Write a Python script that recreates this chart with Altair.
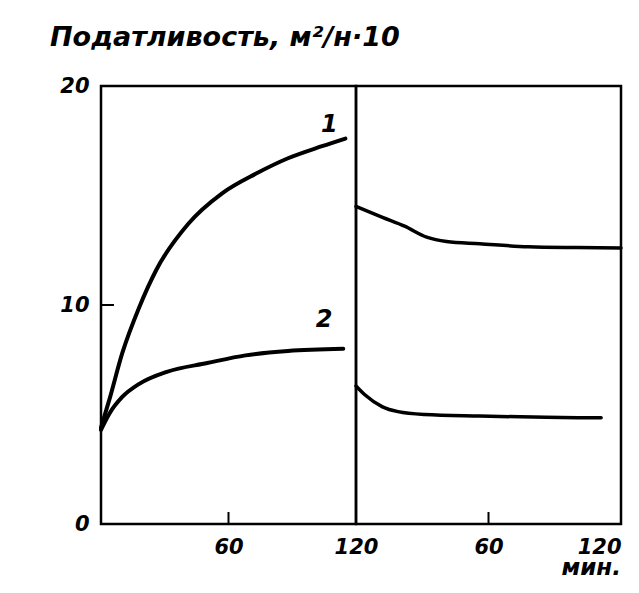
import altair as alt
import pandas as pd

# ---- data ----
# left panel (loading), minutes 0..120
t1_left = [0, 4, 10, 18, 26, 41, 57, 73, 88, 104, 115]
c1_left = [4.4, 5.7, 7.8, 9.9, 11.6, 13.7, 15.1, 16.0, 16.7, 17.25, 17.6]
t2_left = [0, 4, 10, 18, 31, 50, 68, 88, 114]
c2_left = [4.3, 5.05, 5.8, 6.4, 6.95, 7.35, 7.7, 7.9, 8.0]
# right panel (unloading), minutes 0..120
t1_right = [0, 12, 22, 32, 41, 56, 78, 100, 120]
c1_right = [14.5, 14.0, 13.6, 13.1, 12.9, 12.8, 12.66, 12.62, 12.6]
t2_right = [0, 4, 12, 19, 31, 56, 86, 111]
c2_right = [6.3, 5.9, 5.35, 5.13, 5.0, 4.93, 4.87, 4.85]

y_ticks = [0, 10, 20]
x_ticks = [60, 120]
inner_y_ticks = [10]
inner_x_ticks = [60]

curve_labels = ["1", "2"]
curve_label_t = [107.5, 105]
curve_label_v = [18.2, 9.3]

title_text = "Податливость, м²/н·10"
unit_text = "мин."

FONT = "DejaVu Sans"
W_L, W_R, H = 255, 265, 438


def curves(ta, va, tb, vb):
    rows = [{"t": t, "v": v, "s": "1"} for t, v in zip(ta, va)]
    rows += [{"t": t, "v": v, "s": "2"} for t, v in zip(tb, vb)]
    return pd.DataFrame(rows)


lab_kw = dict(labelFont=FONT, labelFontSize=21, labelFontStyle="italic", labelFontWeight="bold",
              labelColor="black", ticks=False, domain=False, grid=False, title=None)

xscale = alt.Scale(domain=[0, 120], nice=False, zero=False)
yscale = alt.Scale(domain=[0, 20], nice=False)


def x_enc(flush):
    return alt.X("t:Q", scale=xscale,
                 axis=alt.Axis(values=x_ticks, labelPadding=12, labelFlush=flush, **lab_kw))


def panel(df, width, sw, show_y, extra):
    ax_y = alt.Axis(values=y_ticks, labelPadding=12, **lab_kw) if show_y else None
    lines = alt.Chart(df).mark_line(color="black", strokeWidth=sw, strokeCap="round",
                                    interpolate="monotone").encode(
        x=x_enc(not show_y),
        y=alt.Y("v:Q", scale=yscale, axis=ax_y),
        detail="s:N",
    )
    xt = alt.Chart(pd.DataFrame({"t": inner_x_ticks})).mark_rule(color="black", strokeWidth=2).encode(
        x=alt.X("t:Q", scale=xscale), y=alt.value(H), y2=alt.value(H - 12))
    layers = [lines, xt] + extra
    return alt.layer(*layers).properties(width=width, height=H)


# left panel extras
yt = alt.Chart(pd.DataFrame({"v": inner_y_ticks})).mark_rule(color="black", strokeWidth=2).encode(
    y=alt.Y("v:Q", scale=yscale), x=alt.value(0), x2=alt.value(13))
lbl = alt.Chart(pd.DataFrame({"t": curve_label_t, "v": curve_label_v, "txt": curve_labels})).mark_text(
    font=FONT, fontSize=24, fontStyle="italic", fontWeight="bold", color="black").encode(
    x=alt.X("t:Q", scale=xscale), y=alt.Y("v:Q", scale=yscale), text="txt:N")
ttl = alt.Chart(pd.DataFrame({"txt": [title_text]})).mark_text(
    font=FONT, fontSize=27, fontStyle="italic", fontWeight="bold", color="black",
    align="left", baseline="top").encode(
    x=alt.value(-51), y=alt.value(-61), text="txt:N")

left = panel(curves(t1_left, c1_left, t2_left, c2_left), W_L, 4, True, [yt, lbl, ttl])

unit = alt.Chart(pd.DataFrame({"txt": [unit_text]})).mark_text(
    font=FONT, fontSize=23, fontStyle="italic", fontWeight="bold", color="black",
    align="right", baseline="bottom").encode(
    x=alt.value(W_R), y=alt.value(H + 56), text="txt:N")

right = panel(curves(t1_right, c1_right, t2_right, c2_right), W_R, 3.5, False, [unit])

chart = alt.hconcat(left, right, spacing=0, bounds="flush").properties(
    padding={"left": 40, "top": 14, "right": 0, "bottom": 0},
    background="white",
).configure_view(stroke="black", strokeWidth=2.5)

chart.save("out.html", embed_options={"renderer": "svg", "actions": False})
